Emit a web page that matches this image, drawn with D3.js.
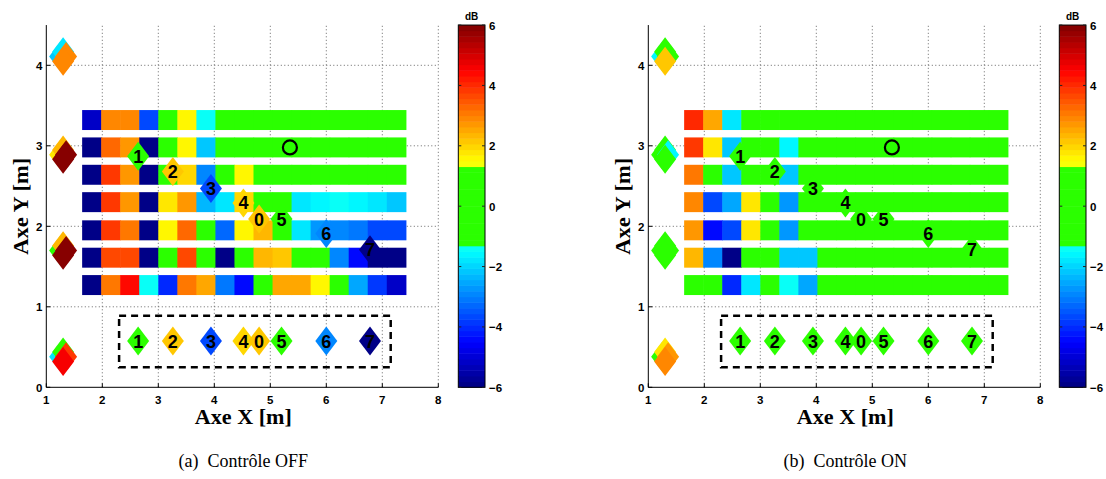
<!DOCTYPE html>
<html><head><meta charset="utf-8">
<script src="https://cdn.jsdelivr.net/npm/d3@7/dist/d3.min.js"></script>
<style>body{margin:0;background:#fff}svg{display:block}</style>
</head><body><svg id="c" width="1106" height="479"></svg>
<script>
// ---------------- DATA ----------------
const colX = [1.81, 2.15, 2.49, 2.83, 3.17, 3.51, 3.85, 4.19, 4.53, 4.87, 5.21, 5.55, 5.89, 6.23, 6.57, 6.91, 7.25];
const rowY = [3.32, 2.98, 2.64, 2.30, 1.95, 1.61, 1.27];

const offValues = [
  [-5.1, 2.85, 2.85, -3.57, 0.3, 1.5, -1.5, 0.2, 0.4, 0.3, 0.2, 0.1, 0.2, 0.3, 0.2, 0.1, 0.2],
  [-5.95, 3.36, 2.73, -5.95, 0.5, 1.6, -2.25, 0.4, 0.6, 0.3, 0.2, 0.3, 0.2, 0.1, 0.2, 0.3, 0.2],
  [-5.95, 3.93, 2.73, -5.95, 0.8, 1.98, -2.91, 0.3, 1.6, 0.5, 0.3, 0.2, 0.3, 0.2, 0.2, 0.2, 0.3],
  [-5.95, 3.93, 2.73, -5.95, 1.86, 2.73, -2.43, -1.86, 1.98, 0.5, 0.8, -1.77, -1.68, -1.5, -1.68, -1.86, -2.1],
  [-5.95, 3.75, 3.09, -5.95, 1.6, 3.36, 0.5, -3.33, 1.6, 2.25, 0.8, -1.77, -2.7, -2.91, -3.18, -3.57, -3.75],
  [-5.95, 3.57, 3.66, -5.95, 0.6, 3.57, 0.7, -5.95, 0.5, 2.43, 2.16, 0.6, 0.5, -2.82, -4.5, -5.95, -5.95],
  [-5.95, 3.0, 4.32, -1.5, -4.11, 3.0, 2.61, -3.09, -4.32, 0.6, 2.61, 2.61, 1.6, 0.5, -2.61, -3.93, -5.1]
];
const onValues = [
  [4.02, 2.61, -1.86, 0.3, 0.2, 0.3, 0.2, 0.1, 0.2, 0.3, 0.2, 0.1, 0.2, 0.3, 0.2, 0.1, 0.2],
  [3.75, 1.86, -2.16, 0.5, 0.4, -1.68, 0.3, 0.2, 0.3, 0.2, 0.1, 0.2, 0.3, 0.2, 0.2, 0.1, 0.2],
  [3.18, 0.6, -2.16, 0.7, 0.4, -2.25, 0.3, 0.2, 0.3, 0.2, 0.2, 0.1, 0.2, 0.3, 0.2, 0.2, 0.3],
  [2.85, -3.66, -2.61, 1.86, 0.5, -2.7, 0.3, 0.2, 0.2, 0.1, 0.3, 0.2, 0.2, 0.3, 0.1, 0.2, 0.2],
  [2.73, -4.5, -3.75, 1.86, 0.6, -2.7, 0.3, 0.2, 0.1, 0.2, 0.3, 0.2, 0.1, 0.2, 0.3, 0.2, 0.2],
  [2.34, -2.91, -5.95, 0.5, 0.4, -2.25, -2.25, 0.3, 0.2, 0.2, 0.1, 0.3, 0.2, 0.2, 0.1, 0.2, 0.3],
  [0.8, 0.5, -4.02, -1.77, 0.4, -1.45, -2.61, 0.3, 0.2, 0.2, 0.1, 0.3, 0.2, 0.2, 0.1, 0.2, 0.2]
];

const micLabels = ["1", "2", "3", "4", "0", "5", "6", "7"];
const micX = [2.64, 3.26, 3.94, 4.52, 4.80, 5.20, 6.00, 6.78];
const micY = [2.87, 2.68, 2.47, 2.29, 2.09, 2.09, 1.91, 1.71];
const legendRowY = 0.575;
const micOff = [0.3, 2.1, -3.57, 2.04, 2.16, 0.3, -2.82, -5.95];
const micOn = [0.3, 0.2, 0.3, 0.2, 0.3, 0.2, 0.3, 0.2];

const spkX = 1.30;
const spkY = [4.11, 2.89, 1.70, 0.38];
// values per speaker: [left, top, right, bottom]
const spkOff = [[-2.16, -1.8, 2.85, 2.85], [1.77, 2.25, 5.95, 5.95], [0.3, 2.25, 5.95, 5.95], [-1.77, 0.3, 3.75, 4.5]];
const spkOn = [[-1.6, 0.3, 0.5, 2.16], [0.4, 0.3, -1.6, 0.3], [0.2, 0.3, 0.4, 0.3], [0.3, 1.77, 2.73, 2.85]];

const refPoint = [5.35, 2.98];
const boxX = [2.30, 7.15];
const boxY = [0.25, 0.89];

const xTicks = [1, 2, 3, 4, 5, 6, 7, 8];
const yTicks = [0, 1, 2, 3, 4];
const cbTicks = [6, 4, 2, 0, -2, -4, -6];
const captions = ["(a)  Contrôle OFF", "(b)  Contrôle ON"];

// ---------------- COLORMAP ----------------
const GREEN = "#2bff00";
const NLEV = 64;
function jet(t) {
  const c = x => Math.max(0, Math.min(1, x));
  const r = c(Math.min(4 * t - 1.5, -4 * t + 4.5));
  const g = c(Math.min(4 * t - 0.5, -4 * t + 3.5));
  const b = c(Math.min(4 * t + 0.5, -4 * t + 2.5));
  return d3.rgb(r * 255, g * 255, b * 255).formatHex();
}
function levelColor(lvl) {
  const vc = -6 + (lvl + 0.5) * 12 / NLEV;
  if (Math.abs(vc) < 1.31) return GREEN;
  return jet((lvl + 0.5) / NLEV);
}
function cmap(v) {
  let lvl = Math.floor((v + 6) / 12 * NLEV);
  lvl = Math.max(0, Math.min(NLEV - 1, lvl));
  return levelColor(lvl);
}

// ---------------- DRAW ----------------
const svg = d3.select("#c");
const panels = [
  {x0: 46.3, values: offValues, mics: micOff, spk: spkOff, cbx: 458.3, cap: captions[0]},
  {x0: 648.3, values: onValues, mics: micOn, spk: spkOn, cbx: 1059.3, cap: captions[1]}
];
const yTop = 25.05, yBot = 387.3, plotW = 392, cbW = 26.7;
const CW = 0.34, RH = 0.248;
const DW = 22, DH = 29;
const diamond = (w, h) => `M0,${-h / 2}L${w / 2},0L0,${h / 2}L${-w / 2},0Z`;
const tickFont = "'Liberation Sans', Arial, sans-serif";

panels.forEach(p => {
  const x = d3.scaleLinear().domain([1, 8]).range([p.x0, p.x0 + plotW]);
  const y = d3.scaleLinear().domain([0, 4.5]).range([yBot, yTop]);
  const g = svg.append("g");

  // grid
  const grid = g.append("g").attr("stroke", "#666").attr("stroke-width", 1).attr("stroke-dasharray", "1,2.5");
  grid.selectAll("line.v").data(xTicks.slice(1)).join("line")
    .attr("x1", d => x(d)).attr("x2", d => x(d)).attr("y1", y(0)).attr("y2", y(4.5));
  grid.selectAll("line.h").data(yTicks.slice(1)).join("line")
    .attr("x1", x(1)).attr("x2", x(8)).attr("y1", d => y(d)).attr("y2", d => y(d));

  // heatmap
  const cells = [];
  p.values.forEach((row, r) => row.forEach((v, c) => cells.push({r, c, v})));
  g.append("g").selectAll("rect").data(cells).join("rect")
    .attr("x", d => x(colX[d.c] - CW / 2))
    .attr("width", d => x(colX[d.c] + CW / 2) - x(colX[d.c] - CW / 2) + 0.6)
    .attr("y", d => y(rowY[d.r] + RH / 2))
    .attr("height", d => y(rowY[d.r] - RH / 2) - y(rowY[d.r] + RH / 2))
    .attr("fill", d => cmap(d.v));

  // axes
  const ax = g.append("g").attr("stroke", "#000").attr("stroke-width", 1);
  ax.append("line").attr("x1", x(1)).attr("x2", x(1)).attr("y1", y(0)).attr("y2", y(4.5));
  ax.append("line").attr("x1", x(1)).attr("x2", x(8)).attr("y1", y(0)).attr("y2", y(0));
  ax.selectAll("line.xt").data(xTicks).join("line").attr("class", "xt")
    .attr("x1", d => x(d)).attr("x2", d => x(d)).attr("y1", y(0)).attr("y2", y(0) - 4);
  ax.selectAll("line.yt").data(yTicks).join("line").attr("class", "yt")
    .attr("x1", x(1)).attr("x2", x(1) + 4).attr("y1", d => y(d)).attr("y2", d => y(d));

  g.append("g").selectAll("text").data(xTicks).join("text")
    .attr("x", d => x(d)).attr("y", y(0) + 17).attr("text-anchor", "middle")
    .attr("font-family", tickFont).attr("font-weight", "bold").attr("font-size", 11.5).text(d => d);
  g.append("g").selectAll("text").data(yTicks).join("text")
    .attr("x", x(1) - 4).attr("y", d => y(d) + 4.5).attr("text-anchor", "end")
    .attr("font-family", tickFont).attr("font-weight", "bold").attr("font-size", 11.5).text(d => d);

  // axis labels
  g.append("text").attr("x", x(1) + 197).attr("y", 424).attr("text-anchor", "middle")
    .attr("font-family", "'Liberation Serif', 'Times New Roman', serif").attr("font-weight", "bold")
    .attr("font-size", 20).attr("textLength", 97).attr("lengthAdjust", "spacingAndGlyphs").text("Axe X [m]");
  g.append("text").attr("transform", `translate(${x(1) - 18},${(y(0) + y(4.5)) / 2}) rotate(-90)`)
    .attr("text-anchor", "middle")
    .attr("font-family", "'Liberation Serif', 'Times New Roman', serif").attr("font-weight", "bold")
    .attr("font-size", 20).attr("textLength", 97).attr("lengthAdjust", "spacingAndGlyphs").text("Axe Y [m]");

  // caption
  g.append("text").attr("x", x(1) + 197).attr("y", 467).attr("text-anchor", "middle")
    .attr("font-family", "'Liberation Serif', 'Times New Roman', serif")
    .attr("font-size", 18).attr("xml:space", "preserve").style("white-space", "pre").text(p.cap);

  // speaker composite markers
  const offs = [[-3, 0], [0, -4.7], [3, 0], [0, 4.7]];
  spkY.forEach((sy, i) => {
    p.spk[i].forEach((v, k) => {
      g.append("path").attr("d", diamond(DW, DH))
        .attr("transform", `translate(${x(spkX) + offs[k][0]},${y(sy) + offs[k][1]})`)
        .attr("fill", cmap(v));
    });
  });

  // dashed box
  g.append("rect").attr("x", x(boxX[0])).attr("y", y(boxY[1]))
    .attr("width", x(boxX[1]) - x(boxX[0])).attr("height", y(boxY[0]) - y(boxY[1]))
    .attr("fill", "none").attr("stroke", "#000").attr("stroke-width", 2.5).attr("stroke-dasharray", "7,5");

  // mic markers: in room and legend row
  const mk = micLabels.map((l, i) => ({l, i}));
  [0, 1].forEach(row => {
    const gm = g.append("g").selectAll("g").data(mk).join("g")
      .attr("transform", d => `translate(${x(micX[d.i])},${row === 0 ? y(micY[d.i]) : y(legendRowY)})`);
    gm.append("path").attr("d", diamond(DW, DH)).attr("fill", d => cmap(p.mics[d.i]));
    gm.append("text").attr("y", 6.5).attr("text-anchor", "middle")
      .attr("font-family", tickFont).attr("font-weight", "bold").attr("font-size", 18).text(d => d.l);
  });

  // reference circle
  g.append("circle").attr("cx", x(refPoint[0])).attr("cy", y(refPoint[1])).attr("r", 7)
    .attr("fill", "none").attr("stroke", "#000").attr("stroke-width", 2.2);

  // colorbar
  const cy = d3.scaleLinear().domain([-6, 6]).range([yBot, yTop]);
  const levels = d3.range(NLEV);
  g.append("g").selectAll("rect").data(levels).join("rect")
    .attr("x", p.cbx).attr("width", cbW)
    .attr("y", d => cy(-6 + (d + 1) * 12 / NLEV))
    .attr("height", d => cy(-6 + d * 12 / NLEV) - cy(-6 + (d + 1) * 12 / NLEV) + 0.5)
    .attr("fill", d => levelColor(d));
  g.append("rect").attr("x", p.cbx).attr("y", cy(6)).attr("width", cbW).attr("height", cy(-6) - cy(6))
    .attr("fill", "none").attr("stroke", "#000").attr("stroke-width", 1);
  const cbt = g.append("g").attr("stroke", "#222").attr("stroke-width", 1);
  cbt.selectAll("line.l").data(cbTicks).join("line")
    .attr("x1", p.cbx).attr("x2", p.cbx + 3).attr("y1", d => cy(d)).attr("y2", d => cy(d));
  cbt.selectAll("line.r").data(cbTicks).join("line")
    .attr("x1", p.cbx + cbW - 3).attr("x2", p.cbx + cbW).attr("y1", d => cy(d)).attr("y2", d => cy(d));
  g.append("g").selectAll("text").data(cbTicks).join("text")
    .attr("x", p.cbx + cbW + 4).attr("y", d => cy(d) + 4.5)
    .attr("font-family", tickFont).attr("font-weight", "bold").attr("font-size", 11.5)
    .text(d => d < 0 ? "\u2212" + Math.abs(d) : d);
  g.append("text").attr("x", p.cbx + cbW / 2).attr("y", 20).attr("text-anchor", "middle")
    .attr("font-family", tickFont).attr("font-weight", "bold").attr("font-size", 10).text("dB");
});
</script></body></html>
